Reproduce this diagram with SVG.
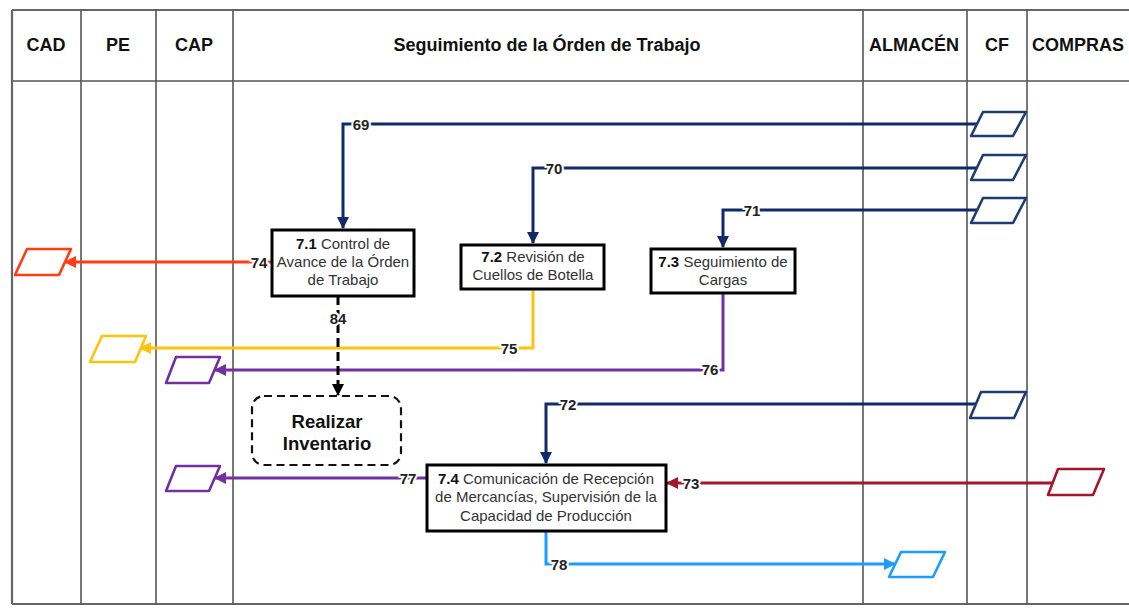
<svg xmlns="http://www.w3.org/2000/svg" width="1129" height="608" viewBox="0 0 1129 608">
  <defs>
    <style>
      .grid { stroke: #555; stroke-width: 1.6; fill: none; }
      .border { stroke: #666; stroke-width: 2.2; fill: none; }
      .hdr { font-family: "Liberation Sans", Arial, sans-serif; font-weight: bold; font-size: 18px; fill: #111; text-anchor: middle; }
      .box { fill: #fff; stroke: #000; stroke-width: 3; }
      .txt { font-family: "Liberation Sans", Arial, sans-serif; font-size: 15px; fill: #333; text-anchor: middle; }
      .txt tspan.n { font-weight: bold; fill: #111; }
      .lbl { font-family: "Liberation Sans", Arial, sans-serif; font-weight: bold; font-size: 15px; fill: #222; text-anchor: middle; dominant-baseline: central; paint-order: stroke; stroke: #fff; stroke-width: 4px; }
      .big { font-family: "Liberation Sans", Arial, sans-serif; font-weight: bold; font-size: 18.5px; fill: #111; text-anchor: middle; }
      .ln { fill: none; stroke-width: 3; stroke-linejoin: miter; }
      .doc { fill: #fff; stroke-width: 2.6; stroke-linejoin: round; }
      .navy { stroke: #102a6a; }
      .docnavy { stroke: #1f3d72; }
      .red { stroke: #a3162c; }
      .orange { stroke: #ff3c14; }
      .yellow { stroke: #ffc20e; }
      .purple { stroke: #7030a0; }
      .blue { stroke: #1c9cff; }
    </style>
    <marker id="aNavy" markerWidth="12" markerHeight="12" viewBox="0 0 12 12" refX="11" refY="6" orient="auto" markerUnits="userSpaceOnUse"><path d="M0,0 L12,6 L0,12 z" fill="#102a6a"/></marker>
    <marker id="aRed" markerWidth="12" markerHeight="12" viewBox="0 0 12 12" refX="11" refY="6" orient="auto" markerUnits="userSpaceOnUse"><path d="M0,0 L12,6 L0,12 z" fill="#a3162c"/></marker>
    <marker id="aOrange" markerWidth="12" markerHeight="12" viewBox="0 0 12 12" refX="11" refY="6" orient="auto" markerUnits="userSpaceOnUse"><path d="M0,0 L12,6 L0,12 z" fill="#ff3c14"/></marker>
    <marker id="aYellow" markerWidth="12" markerHeight="12" viewBox="0 0 12 12" refX="11" refY="6" orient="auto" markerUnits="userSpaceOnUse"><path d="M0,0 L12,6 L0,12 z" fill="#ffc20e"/></marker>
    <marker id="aPurple" markerWidth="12" markerHeight="12" viewBox="0 0 12 12" refX="11" refY="6" orient="auto" markerUnits="userSpaceOnUse"><path d="M0,0 L12,6 L0,12 z" fill="#7030a0"/></marker>
    <marker id="aBlue" markerWidth="12" markerHeight="12" viewBox="0 0 12 12" refX="11" refY="6" orient="auto" markerUnits="userSpaceOnUse"><path d="M0,0 L12,6 L0,12 z" fill="#1c9cff"/></marker>
    <marker id="aBlack" markerWidth="12" markerHeight="12" viewBox="0 0 12 12" refX="11" refY="6" orient="auto" markerUnits="userSpaceOnUse"><path d="M0,0 L12,6 L0,12 z" fill="#000"/></marker>
  </defs>

  <rect width="1129" height="608" fill="#fff"/>

  <!-- swimlane table -->
  <g id="lanes">
    <line class="border" x1="12" y1="10" x2="1129" y2="10"/>
    <line class="border" x1="12" y1="604" x2="1129" y2="604"/>
    <line class="grid" x1="12" y1="81" x2="1129" y2="81"/>
    <line class="border" x1="12" y1="10" x2="12" y2="604"/>
    <line class="grid" x1="81" y1="10" x2="81" y2="604"/>
    <line class="grid" x1="156" y1="10" x2="156" y2="604"/>
    <line class="grid" x1="233" y1="10" x2="233" y2="604"/>
    <line class="grid" x1="863" y1="10" x2="863" y2="604"/>
    <line class="grid" x1="967" y1="10" x2="967" y2="604"/>
    <line class="grid" x1="1027" y1="10" x2="1027" y2="604"/>
    <text class="hdr" x="46" y="51">CAD</text>
    <text class="hdr" x="118" y="51">PE</text>
    <text class="hdr" x="194" y="51">CAP</text>
    <text class="hdr" x="547" y="51">Seguimiento de la Órden de Trabajo</text>
    <text class="hdr" x="914" y="51">ALMACÉN</text>
    <text class="hdr" x="997" y="51">CF</text>
    <text class="hdr" x="1078" y="51">COMPRAS</text>
  </g>

  <!-- connectors -->
  <g id="connectors">
    <path class="ln navy" d="M977,124 H343 V228" marker-end="url(#aNavy)"/>
    <path class="ln navy" d="M977,168 H533 V243" marker-end="url(#aNavy)"/>
    <path class="ln navy" d="M977,210 H723 V247" marker-end="url(#aNavy)"/>
    <path class="ln navy" d="M977,404 H546 V463" marker-end="url(#aNavy)"/>
    <path class="ln red" d="M1053,483 H667" marker-end="url(#aRed)"/>
    <path class="ln orange" d="M272,262 H65" marker-end="url(#aOrange)"/>
    <path class="ln yellow" d="M533,290 V348 H140" marker-end="url(#aYellow)"/>
    <path class="ln purple" d="M723,293 V370 H215" marker-end="url(#aPurple)"/>
    <path class="ln purple" d="M427,478 H215" marker-end="url(#aPurple)"/>
    <path class="ln blue" d="M546,531 V564 H895" marker-end="url(#aBlue)"/>
    <path class="ln" stroke="#000" stroke-dasharray="9,5" d="M338,296 V395" marker-end="url(#aBlack)"/>

    <text class="lbl" x="361" y="124">69</text>
    <text class="lbl" x="554" y="168">70</text>
    <text class="lbl" x="752" y="210">71</text>
    <text class="lbl" x="568" y="404">72</text>
    <text class="lbl" x="691" y="483">73</text>
    <text class="lbl" x="259" y="262">74</text>
    <text class="lbl" x="509" y="348">75</text>
    <text class="lbl" x="710" y="369">76</text>
    <text class="lbl" x="408" y="478">77</text>
    <text class="lbl" x="559" y="564">78</text>
    <text class="lbl" x="338" y="318">84</text>
  </g>

  <!-- data / document symbols -->
  <g id="doc-cf-69"><polygon class="doc docnavy" points="983,112 1026,112 1013,136 971,136"/></g>
  <g id="doc-cf-70"><polygon class="doc docnavy" points="983,155 1026,155 1013,180 971,180"/></g>
  <g id="doc-cf-71"><polygon class="doc docnavy" points="983,198 1026,198 1013,223 971,223"/></g>
  <g id="doc-cf-72"><polygon class="doc docnavy" points="981,392 1026,392 1014,418 970,418"/></g>
  <g id="doc-compras-73"><polygon class="doc red" points="1058,469 1104,469 1093,495 1048,495"/></g>
  <g id="doc-cad-74"><polygon class="doc orange" points="27,249 71,249 59,275 15,275"/></g>
  <g id="doc-pe-75"><polygon class="doc yellow" points="102,336 146,336 135,362 90,362"/></g>
  <g id="doc-cap-76"><polygon class="doc purple" points="176,357 220,357 209,383 166,383"/></g>
  <g id="doc-cap-77"><polygon class="doc purple" points="176,466 220,466 209,491 166,491"/></g>
  <g id="doc-almacen-78"><polygon class="doc blue" points="901,552 945,552 933,577 889,577"/></g>

  <!-- process nodes -->
  <g id="node-7-1">
    <rect class="box" x="272" y="230" width="142" height="66"/>
    <text class="txt" x="343" y="249"><tspan class="n">7.1</tspan> Control de</text>
    <text class="txt" x="343" y="267">Avance de la Órden</text>
    <text class="txt" x="343" y="285">de Trabajo</text>
  </g>
  <g id="node-7-2">
    <rect class="box" x="461" y="245" width="143" height="44"/>
    <text class="txt" x="533" y="262"><tspan class="n">7.2</tspan> Revisión de</text>
    <text class="txt" x="533" y="280">Cuellos de Botella</text>
  </g>
  <g id="node-7-3">
    <rect class="box" x="651" y="249" width="144" height="44"/>
    <text class="txt" x="723" y="267"><tspan class="n">7.3</tspan> Seguimiento de</text>
    <text class="txt" x="723" y="285">Cargas</text>
  </g>
  <g id="node-inventario">
    <rect x="252" y="396" width="149" height="69" rx="12" fill="#fff" stroke="#111" stroke-width="2.2" stroke-dasharray="8,5"/>
    <text class="big" x="327" y="428">Realizar</text>
    <text class="big" x="327" y="450">Inventario</text>
  </g>
  <g id="node-7-4">
    <rect class="box" x="427" y="465" width="239" height="66"/>
    <text class="txt" x="546" y="484"><tspan class="n">7.4</tspan> Comunicación de Recepción</text>
    <text class="txt" x="546" y="502">de Mercancías, Supervisión de la</text>
    <text class="txt" x="546" y="521">Capacidad de Producción</text>
  </g>
</svg>
